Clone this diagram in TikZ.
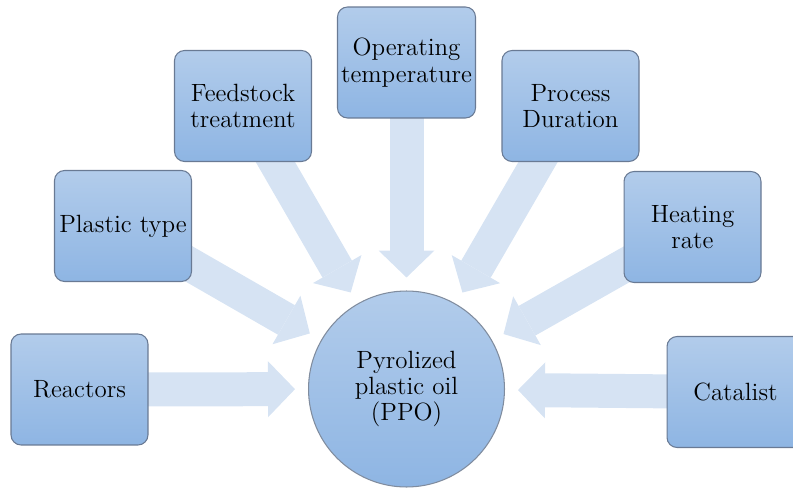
\documentclass[tikz,border=0pt]{standalone}
\usepackage{fontspec}
\usetikzlibrary{arrows.meta,backgrounds}

\definecolor{boxtop}{RGB}{178,204,235}
\definecolor{boxbottom}{RGB}{142,181,227}
\definecolor{boxline}{RGB}{105,122,148}
\definecolor{ringline}{RGB}{128,140,158}
\definecolor{arrowblue}{RGB}{214,227,243}

\tikzset{
  factor/.style={rectangle, rounded corners=0.2cm, draw=boxline, line width=0.6pt,
    top color=boxtop, bottom color=boxbottom, minimum width=2.74cm,
    minimum height=2.22cm, inner sep=2pt, align=center,
    font=\fontsize{14.2}{15}\selectfont},
  product/.style={circle, draw=ringline, line width=0.6pt, top color=boxtop,
    bottom color=boxbottom, minimum size=3.92cm, inner sep=0pt, align=center,
    font=\fontsize{14.2}{15}\selectfont},
  flow/.style={draw=arrowblue, line width=0.68cm,
    -{Triangle[width=1.12cm,length=0.54cm,line width=0pt]}, shorten >=0.26cm}
}

\begin{document}
\begin{tikzpicture}[x=0.02cm,y=-0.02cm]
    \useasboundingbox (0,0) rectangle (793,489);

    % 中心の円
    \node[product] (ppo) at (406.5,389) {Pyrolized\\plastic oil\\(PPO)};

    % 要因のボックス
    \node[factor] (reactors)  at (79.5,389.5) {Reactors};
    \node[factor] (plastic)   at (123,226)    {Plastic type};
    \node[factor] (feedstock) at (243,106)    {Feedstock\\treatment};
    \node[factor] (operating) at (406.5,62.5) {Operating\\temperature};
    \node[factor] (process)   at (570.5,106)  {Process\\Duration};
    \node[factor] (heating)   at (692.5,227)  {Heating\\rate};
    \node[factor] (catalist)  at (735.5,392)  {Catalist};

    % 円へ向かう矢印
    \begin{pgfonlayer}{background}
        \draw[flow] (reactors.center)  -- (ppo);
        \draw[flow] (plastic.center)   -- (ppo);
        \draw[flow] (feedstock.center) -- (ppo);
        \draw[flow] (operating.center) -- (ppo);
        \draw[flow] (process.center)   -- (ppo);
        \draw[flow] (heating.center)   -- (ppo);
        \draw[flow] (catalist.center)  -- (ppo);
    \end{pgfonlayer}
\end{tikzpicture}
\end{document}
